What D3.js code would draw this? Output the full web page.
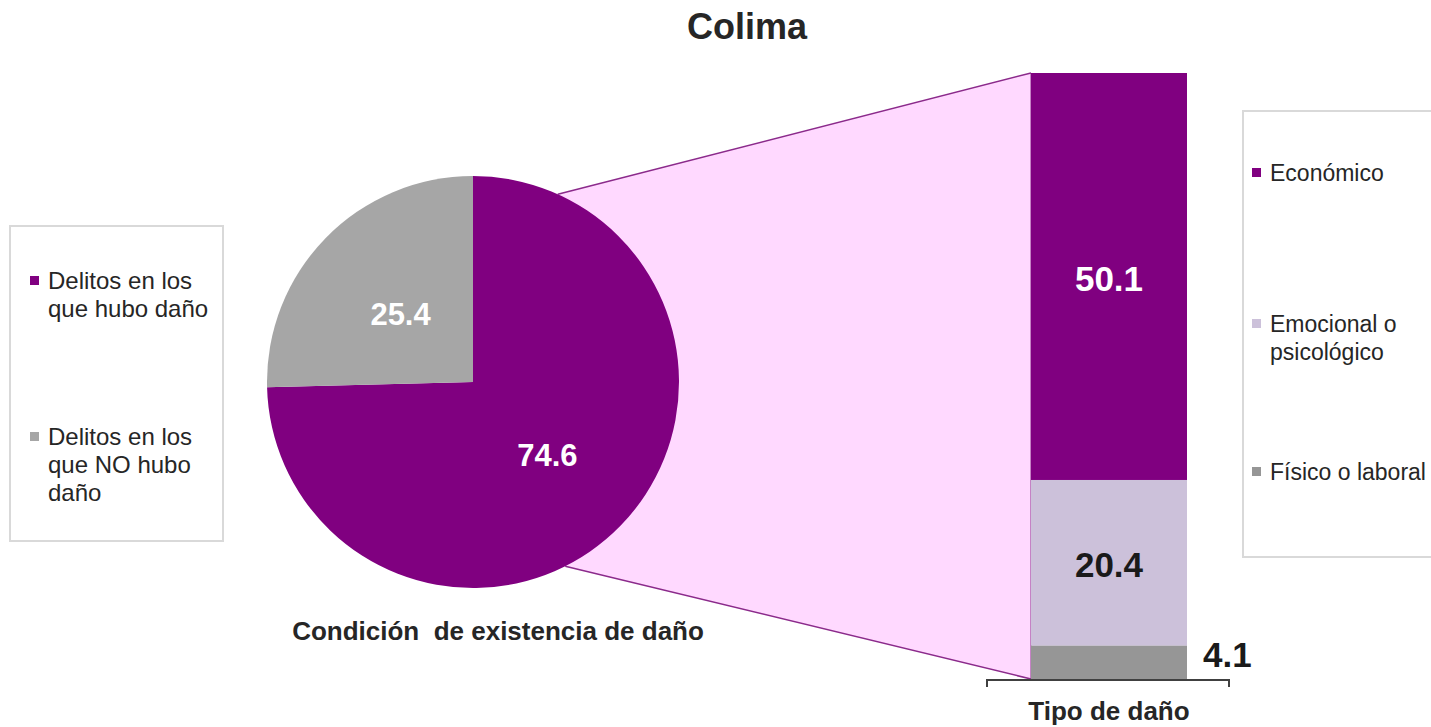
<!DOCTYPE html>
<html>
<head>
<meta charset="utf-8">
<script src="https://cdn.jsdelivr.net/npm/d3@7"></script>
<style>
  body { margin: 0; background: #fff; }
  text { font-family: "Liberation Sans", Arial, sans-serif; }
</style>
</head>
<body>
<svg id="chart" width="1431" height="727"></svg>
<script>
// pie: condición de existencia de daño
const pieLabels = ['Delitos en los que hubo daño', 'Delitos en los que NO hubo daño']
const pieValues = [74.6, 25.4]
const pieLegendLines = [['Delitos en los', 'que hubo daño'], ['Delitos en los', 'que NO hubo', 'daño']]

// bar: tipo de daño
const barLabels = ['Económico', 'Emocional o psicológico', 'Físico o laboral']
const barValues = [50.1, 20.4, 4.1]
const barLegendLines = [['Económico'], ['Emocional o', 'psicológico'], ['Físico o laboral']]

const pieColors = ['#800080', '#A6A6A6']
const barColors = ['#800080', '#CCC1DA', '#969696']

const svg = d3.select('#chart')

svg.append('text')
  .text('Colima')
  .attr('x', 747)
  .attr('y', 39)
  .attr('text-anchor', 'middle')
  .attr('font-size', 36)
  .attr('font-weight', 'bold')
  .attr('fill', '#262626')

// pie geometry
const cx = 473
const cy = 382
const r = 206

// bar geometry
const barX = 1031
const barW = 156
const total = d3.sum(barValues)
const y = d3.scaleLinear()
  .domain([0, total])
  .range([679, 73])

// connector polygon (pie edge -> bar corners)
const toPoint = a => [cx + r * Math.sin(a), cy - r * Math.cos(a)]
const pUp = toPoint(24.3 * Math.PI / 180)
const pDown = toPoint(153.4 * Math.PI / 180)

svg.append('path')
  .attr('d', d3.line()([pUp, [barX, y(total)], [barX, y(0)], pDown, [cx, cy]]) + 'Z')
  .attr('fill', '#FFD9FF')
svg.append('line')
  .attr('x1', pUp[0]).attr('y1', pUp[1])
  .attr('x2', barX).attr('y2', y(total))
  .attr('stroke', '#8B2A8B').attr('stroke-width', 1.5)
svg.append('line')
  .attr('x1', pDown[0]).attr('y1', pDown[1])
  .attr('x2', barX).attr('y2', y(0))
  .attr('stroke', '#8B2A8B').attr('stroke-width', 1.5)
svg.append('line')
  .attr('x1', barX).attr('y1', y(total))
  .attr('x2', barX).attr('y2', y(0))
  .attr('stroke', '#8B2A8B').attr('stroke-width', 1)

// pie
const pie = d3.pie().sort(null).value(d => d)
const arc = d3.arc().innerRadius(0).outerRadius(r)
const arcs = pie(pieValues)

const pieG = svg.append('g')
  .attr('transform', 'translate(' + cx + ',' + cy + ')')
pieG.selectAll('path')
  .data(arcs)
  .enter().append('path')
  .attr('d', arc)
  .attr('fill', (d, i) => pieColors[i])

const labelArc = d3.arc().innerRadius(r * 0.62).outerRadius(r * 0.62)
pieG.selectAll('text')
  .data(arcs)
  .enter().append('text')
  .text(d => d.data.toFixed(1))
  .attr('transform', (d, i) => {
    const c = labelArc.centroid(d)
    // nudge to match the original placement
    return i === 0 ? 'translate(' + (c[0] - 17) + ',' + (c[1] - 16) + ')' : 'translate(' + (c[0] + 19) + ',' + (c[1] + 21) + ')'
  })
  .attr('text-anchor', 'middle')
  .attr('dy', '0.35em')
  .attr('font-size', 31)
  .attr('font-weight', 'bold')
  .attr('fill', '#fff')

svg.append('text')
  .text('Condición  de existencia de daño')
  .attr('x', 498)
  .attr('y', 640)
  .attr('text-anchor', 'middle')
  .attr('font-size', 26)
  .attr('font-weight', 'bold')
  .attr('fill', '#262626')
  .style('white-space', 'pre')

// stacked bar
const stack = barValues.map((v, i) => ({
  label: barLabels[i],
  value: v,
  y0: d3.sum(barValues.slice(0, i)),
  color: barColors[i]
}))

svg.append('g')
  .selectAll('rect')
  .data(stack)
  .enter().append('rect')
  .attr('x', barX)
  .attr('width', barW)
  .attr('y', d => y(total - d.y0))
  .attr('height', d => y(total - d.y0 - d.value) - y(total - d.y0))
  .attr('fill', d => d.color)

svg.append('g')
  .selectAll('text')
  .data(stack)
  .enter().append('text')
  .text(d => d.value.toFixed(1))
  .attr('x', (d, i) => i === 2 ? barX + barW + 16 : barX + barW / 2)
  .attr('y', (d, i) => {
    const mid = (y(total - d.y0) + y(total - d.y0 - d.value)) / 2
    return i === 2 ? mid - 8 : mid + 2
  })
  .attr('text-anchor', (d, i) => i === 2 ? 'start' : 'middle')
  .attr('dy', '0.35em')
  .attr('font-size', 35)
  .attr('font-weight', 'bold')
  .attr('fill', (d, i) => i === 0 ? '#fff' : '#1a1a1a')

// bracket axis under the bar
svg.append('path')
  .attr('d', 'M987,687 V680 H1229 V687')
  .attr('fill', 'none')
  .attr('stroke', '#404040')
  .attr('stroke-width', 2)
svg.append('text')
  .text('Tipo de daño')
  .attr('x', 1109)
  .attr('y', 720)
  .attr('text-anchor', 'middle')
  .attr('font-size', 26)
  .attr('font-weight', 'bold')
  .attr('fill', '#262626')

// legends
const drawLegend = (box, items, colors, markerX, rowY, fontSize) => {
  svg.append('rect')
    .attr('x', box[0]).attr('y', box[1])
    .attr('width', box[2]).attr('height', box[3])
    .attr('fill', '#fff')
    .attr('stroke', '#D9D9D9')
    .attr('stroke-width', 2)
  items.forEach((lines, i) => {
    svg.append('rect')
      .attr('x', markerX).attr('y', rowY[i] - 13)
      .attr('width', 9).attr('height', 9)
      .attr('fill', colors[i])
    const t = svg.append('text')
      .attr('x', markerX + 18)
      .attr('y', rowY[i])
      .attr('font-size', fontSize)
      .attr('fill', '#262626')
    lines.forEach((line, j) => {
      t.append('tspan')
        .attr('x', markerX + 18)
        .attr('dy', j === 0 ? 0 : 28)
        .text(line)
    })
  })
}

drawLegend([10, 226, 213, 315], pieLegendLines, pieColors, 30, [289, 445], 24)
drawLegend([1243, 111, 210, 446], barLegendLines, barColors, 1252, [181, 332, 480], 23)
</script>
</body>
</html>
